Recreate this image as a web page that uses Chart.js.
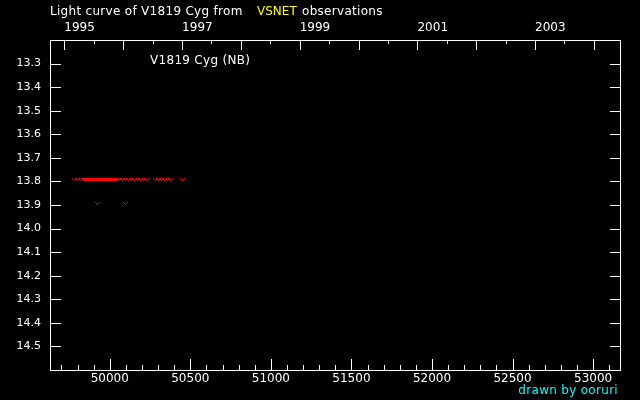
<!DOCTYPE html>
<html>
<head>
<meta charset="utf-8">
<script src="https://cdn.jsdelivr.net/npm/chart.js@4/dist/chart.umd.min.js"></script>
<style>
  body { margin: 0; background: #000; }
  canvas { display: block; }
</style>
</head>
<body>
<canvas id="lcCanvas" width="640" height="400"></canvas>
<script>
// observations (MJD, magnitude)
const earlyDates = [49778, 49796, 49815];
const earlyMags = [13.8, 13.8, 13.8];
const obsDates = [49833, 49839, 49845, 49851, 49857, 49863, 49869, 49876, 49882, 49888,
    49894, 49900, 49906, 49913, 49919, 49925, 49931, 49937, 49943, 49950,
    49956, 49962, 49968, 49974, 49980, 49987, 49993, 49999, 50005, 50011,
    50017, 50024, 50030, 50036, 50057, 50075, 50094, 50112, 50131, 50149,
    50168, 50187, 50205, 50224, 50280, 50298, 50317, 50335, 50354, 50373,
    50447, 49920, 50097];
const obsMags = [13.8, 13.8, 13.8, 13.8, 13.8, 13.8, 13.8, 13.8, 13.8, 13.8,
    13.8, 13.8, 13.8, 13.8, 13.8, 13.8, 13.8, 13.8, 13.8, 13.8,
    13.8, 13.8, 13.8, 13.8, 13.8, 13.8, 13.8, 13.8, 13.8, 13.8,
    13.8, 13.8, 13.8, 13.8, 13.8, 13.8, 13.8, 13.8, 13.8, 13.8,
    13.8, 13.8, 13.8, 13.8, 13.8, 13.8, 13.8, 13.8, 13.8, 13.8,
    13.8, 13.9, 13.9];

// axis ticks
const magTicks = [13.3, 13.4, 13.5, 13.6, 13.7, 13.8, 13.9, 14.0, 14.1, 14.2, 14.3, 14.4, 14.5];
const mjdMajor = [50000, 50500, 51000, 51500, 52000, 52500, 53000];
const mjdMinor = [49700, 49800, 49900, 50100, 50200, 50300, 50400, 50600, 50700, 50800, 50900,
    51100, 51200, 51300, 51400, 51600, 51700, 51800, 51900, 52100, 52200, 52300, 52400,
    52600, 52700, 52800, 52900, 53100];
const yearTicks = [1995, 1996, 1997, 1998, 1999, 2000, 2001, 2002, 2003, 2004];
const yearLabels = [1995, 1997, 1999, 2001, 2003];

const FONT = "12px 'DejaVu Sans'";
const SMALL = "11px 'DejaVu Sans'";

function toMJD(year, month, day) {
    return Date.UTC(year, month, day) / 86400000 + 40587;
}

// "fainter than" marks: little v, drawn pixel by pixel at the element positions
const vees = {
    id: "vees",
    afterDatasetsDraw(chart) {
        const ctx = chart.ctx;
        ctx.save();
        chart.data.datasets.forEach((ds, i) => {
            ctx.fillStyle = ds.markColor;
            chart.getDatasetMeta(i).data.forEach(pt => {
                const cx = Math.round(pt.x), cy = Math.round(pt.y);
                ctx.fillRect(cx - 2, cy - 3, 1, 1); ctx.fillRect(cx + 2, cy - 3, 1, 1);
                ctx.fillRect(cx - 1, cy - 2, 1, 1); ctx.fillRect(cx + 1, cy - 2, 1, 1);
                ctx.fillRect(cx, cy - 1, 1, 1);
            });
        });
        ctx.restore();
    }
};

const frame = {
    id: "frame",
    afterDatasetsDraw(chart) {
        const ctx = chart.ctx;
        const a = chart.chartArea;
        const xs = chart.scales.x, ys = chart.scales.y;
        ctx.save();
        ctx.strokeStyle = "#fff";
        ctx.lineWidth = 1;
        ctx.strokeRect(a.left + 0.5, a.top + 0.5, a.right - a.left, a.bottom - a.top);

        ctx.beginPath();
        magTicks.forEach(m => {
            const y = Math.round(ys.getPixelForValue(m)) + 0.5;
            ctx.moveTo(a.left, y); ctx.lineTo(a.left + 11, y);
            ctx.moveTo(a.right + 1, y); ctx.lineTo(a.right - 10, y);
        });
        mjdMajor.forEach(d => {
            const x = Math.round(xs.getPixelForValue(d)) + 0.5;
            ctx.moveTo(x, a.bottom); ctx.lineTo(x, a.bottom - 11);
        });
        mjdMinor.forEach(d => {
            const x = Math.round(xs.getPixelForValue(d)) + 0.5;
            ctx.moveTo(x, a.bottom); ctx.lineTo(x, a.bottom - 5);
        });
        yearTicks.forEach(yr => {
            const x = Math.round(xs.getPixelForValue(toMJD(yr, 0, 1))) + 0.5;
            ctx.moveTo(x, a.top); ctx.lineTo(x, a.top + 10);
            const h = xs.getPixelForValue(toMJD(yr, 6, 2));
            if (h < a.right) {
                const hx = Math.round(h) + 0.5;
                ctx.moveTo(hx, a.top); ctx.lineTo(hx, a.top + 4);
            }
        });
        ctx.stroke();

        ctx.fillStyle = "#fff";
        ctx.textBaseline = "middle";
        ctx.font = SMALL;
        ctx.textAlign = "right";
        magTicks.forEach(m => {
            ctx.fillText(m.toFixed(1), a.left - 9, ys.getPixelForValue(m));
        });
        ctx.font = FONT;
        ctx.textAlign = "center";
        mjdMajor.forEach(d => {
            ctx.fillText(String(d), xs.getPixelForValue(d), a.bottom + 9);
        });
        ctx.textAlign = "left";
        yearLabels.forEach(yr => {
            ctx.fillText(String(yr), xs.getPixelForValue(toMJD(yr, 0, 1)), a.top - 12);
        });

        ctx.letterSpacing = "0.3px";
        ctx.fillText("Light curve of V1819 Cyg from", 50, 12);
        ctx.fillText("observations", 302, 12);
        ctx.fillText("V1819 Cyg (NB)", 150, 61);
        ctx.letterSpacing = "0px";
        ctx.fillStyle = "#ffff00";
        ctx.fillText("VSNET", 257, 12);

        ctx.letterSpacing = "0.3px";
        ctx.textAlign = "right";
        ctx.fillStyle = "#00ffff";
        ctx.fillText("drawn by ooruri", 618, 391);
        ctx.restore();
    }
};

new Chart(document.getElementById("lcCanvas"), {
    type: "scatter",
    data: {
        datasets: [{
            label: "early",
            data: earlyDates.map((d, i) => ({ x: d, y: earlyMags[i] })),
            markColor: "#b01818",
            pointRadius: 0
        }, {
            label: "V1819 Cyg",
            data: obsDates.map((d, i) => ({ x: d, y: obsMags[i] })),
            markColor: "#ff0000",
            pointRadius: 0
        }]
    },
    options: {
        responsive: false,
        animation: false,
        devicePixelRatio: 1,
        layout: { padding: { left: 50, top: 40, right: 20, bottom: 30 } },
        plugins: { legend: { display: false }, tooltip: { enabled: false } },
        scales: {
            x: { type: "linear", min: 49629, max: 53167, display: false },
            y: { type: "linear", min: 13.2, max: 14.6, reverse: true, display: false }
        }
    },
    plugins: [vees, frame]
});
</script>
</body>
</html>
